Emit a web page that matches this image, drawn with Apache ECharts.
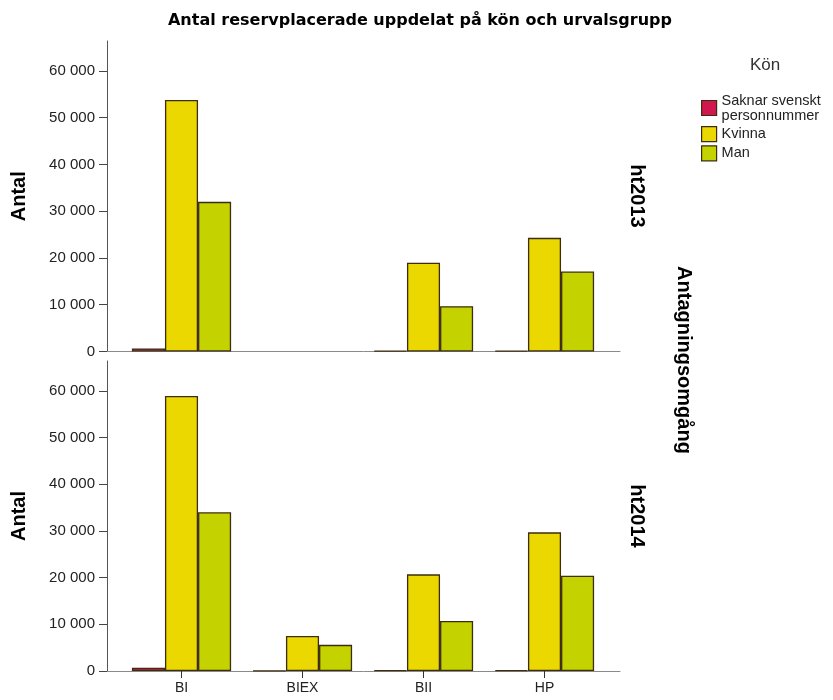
<!DOCTYPE html>
<html>
<head>
<meta charset="utf-8">
<script src="https://cdn.jsdelivr.net/npm/echarts@6/dist/echarts.min.js"></script>
<style>html,body{margin:0;padding:0;background:#fff;}#c{width:833px;height:700px;}</style>
</head>
<body>
<div id="c"></div>
<script>
// ---- data ----
var categories = ['BI', 'BIEX', 'BII', 'HP'];
var seriesNames = ['Saknar svenskt\npersonnummer', 'Kvinna', 'Man'];
var saknar2013 = [650, null, 150, 150];
var kvinna2013 = [53800, null, 19000, 24300];
var man2013 = [32000, null, 9700, 17100];
var saknar2014 = [700, 60, 150, 150];
var kvinna2014 = [58900, 7500, 20700, 29700];
var man2014 = [34000, 5600, 10700, 20400];
var yTicks = [0, 10000, 20000, 30000, 40000, 50000, 60000];
var panelNames = ['ht2013', 'ht2014'];

var colors = ['#d0174e', '#ead800', '#c4d300'];
var border = '#3d2c10';
var yMax = 66400;

function fmt(v) { return String(v).replace(/\B(?=(\d{3})+(?!\d))/g, ' '); }

function yAxisCfg(gi) {
  return {
    type: 'value', gridIndex: gi, min: 0, max: yMax, offset: 14,
    name: 'Antal', nameLocation: 'middle', nameGap: 78, nameRotate: 90,
    nameTextStyle: { fontFamily: 'Liberation Sans', fontWeight: 'bold', fontSize: 20, color: '#000' },
    axisLine: { show: true, lineStyle: { color: '#555', width: 1 } },
    axisTick: { show: true, length: 8, lineStyle: { color: '#444' }, customValues: yTicks },
    axisLabel: { show: true, margin: 12, fontFamily: 'Liberation Sans', fontSize: 15, color: '#222',
      customValues: yTicks, formatter: function (v) { return fmt(v); } },
    splitLine: { show: false }
  };
}

function catAxis(gi, showLabels) {
  return {
    type: 'category', gridIndex: gi, data: categories,
    axisLine: { show: false },
    axisTick: { show: showLabels, alignWithLabel: true, length: 7, lineStyle: { color: '#333' } },
    axisLabel: { show: showLabels, margin: 10, fontFamily: 'Liberation Sans', fontSize: 14, color: '#222' },
    splitLine: { show: false }
  };
}

function lineAxis(gi) {
  return {
    type: 'value', gridIndex: gi, min: 0, max: 1,
    axisLine: { show: true, onZero: false, lineStyle: { color: '#8a8a8a', width: 1 } },
    axisTick: { show: false }, axisLabel: { show: false }, splitLine: { show: false }
  };
}

function bar(name, data, xi, yi, ci) {
  return {
    type: 'bar', name: name, data: data, xAxisIndex: xi, yAxisIndex: yi,
    barGap: '0%', barCategoryGap: '18%',
    itemStyle: { color: colors[ci], borderColor: border, borderWidth: 1.3 },
    emphasis: { disabled: true }, z: 3
  };
}

var chart = echarts.init(document.getElementById('c'), null, { renderer: 'canvas' });
chart.setOption({
  animation: false,
  backgroundColor: '#fff',
  title: [
    { text: 'Antal reservplacerade uppdelat på kön och urvalsgrupp', left: 415, top: 8, textAlign: 'center',
      textStyle: { fontFamily: 'DejaVu Sans', fontWeight: 'bold', fontSize: 16, color: '#000' } },
    { text: 'Kön', left: 760, top: 52, textAlign: 'center',
      textStyle: { fontFamily: 'Liberation Sans', fontWeight: 'normal', fontSize: 17, color: '#333' } }
  ],
  legend: {
    orient: 'vertical', left: 696, top: 88, itemWidth: 15, itemHeight: 15, itemGap: 3,
    icon: 'rect', data: seriesNames,
    itemStyle: { borderColor: border, borderWidth: 1.2 },
    textStyle: { fontFamily: 'Liberation Sans', fontSize: 14.5, color: '#222', lineHeight: 15 }
  },
  grid: [
    { left: 121, width: 484, top: 41, height: 310.5 },
    { left: 121, width: 484, top: 361, height: 310 },
    { left: 107, width: 513, top: 41, height: 310.5 },
    { left: 107, width: 513, top: 361, height: 310 }
  ],
  xAxis: [catAxis(0, false), catAxis(1, true), lineAxis(2), lineAxis(3)],
  yAxis: [yAxisCfg(0), yAxisCfg(1),
    { type: 'value', gridIndex: 2, show: false }, { type: 'value', gridIndex: 3, show: false }],
  series: [
    bar(seriesNames[0], saknar2013, 0, 0, 0),
    bar(seriesNames[1], kvinna2013, 0, 0, 1),
    bar(seriesNames[2], man2013, 0, 0, 2),
    bar(seriesNames[0], saknar2014, 1, 1, 0),
    bar(seriesNames[1], kvinna2014, 1, 1, 1),
    bar(seriesNames[2], man2014, 1, 1, 2)
  ],
  graphic: [
    { type: 'text', x: 637, y: 196, rotation: -Math.PI / 2,
      style: { text: panelNames[0], fill: '#000', font: 'bold 20px "Liberation Sans"', align: 'center', verticalAlign: 'middle' } },
    { type: 'text', x: 637, y: 516, rotation: -Math.PI / 2,
      style: { text: panelNames[1], fill: '#000', font: 'bold 20px "Liberation Sans"', align: 'center', verticalAlign: 'middle' } },
    { type: 'text', x: 684, y: 360, rotation: -Math.PI / 2,
      style: { text: 'Antagningsomgång', fill: '#000', font: 'bold 20px "Liberation Sans"', align: 'center', verticalAlign: 'middle' } }
  ]
});
</script>
</body>
</html>
